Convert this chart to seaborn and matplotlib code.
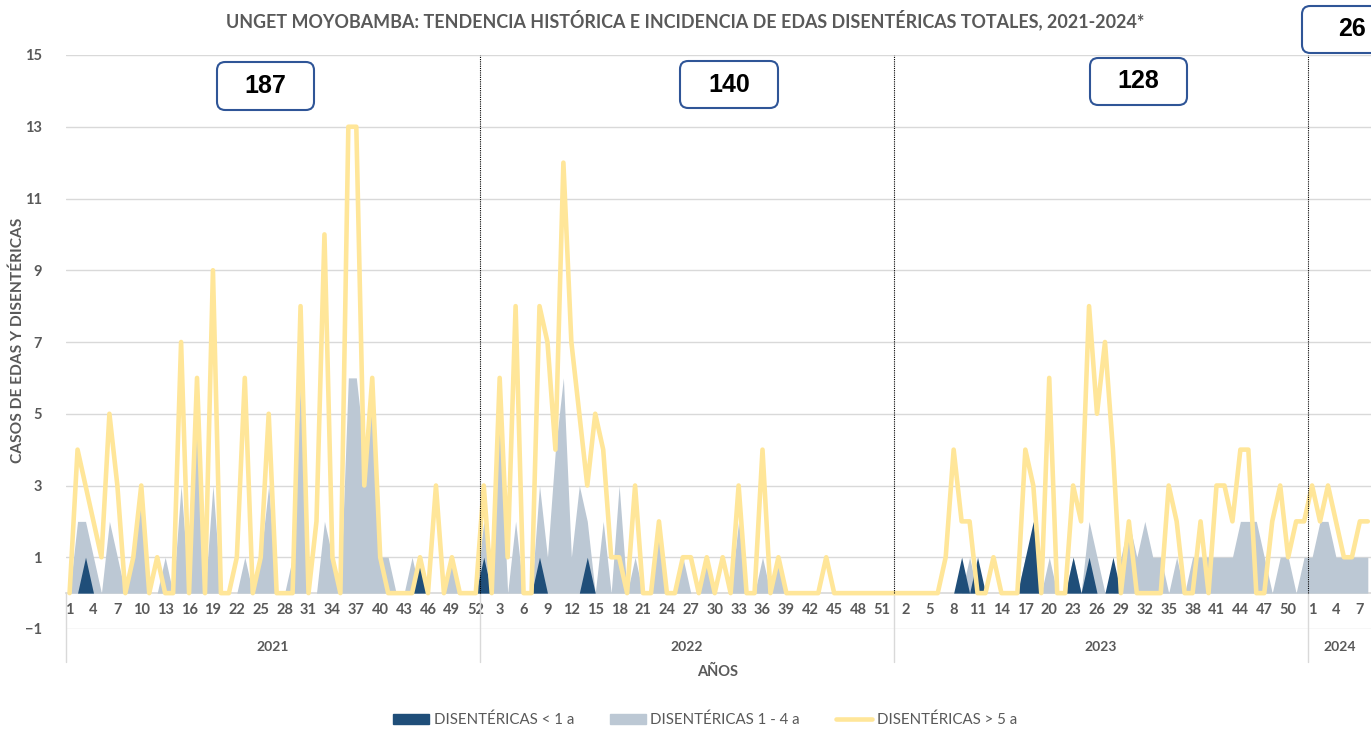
import matplotlib
matplotlib.use('Agg')
import matplotlib.pyplot as plt
import matplotlib.patches as mpatches
from matplotlib.lines import Line2D
import pandas as pd
import seaborn as sns

# ---- data ----
years = ['2021', '2022', '2023', '2024']
totals = ['187', '140', '128', '26']

# DISENTÉRICAS < 1 a
menor1_2021 = [0, 0, 1, 0, 0, 0, 0, 0, 0, 0, 0, 0, 0, 0, 0, 0, 0, 0, 0, 0, 0, 0, 0, 0, 0, 0,
               0, 0, 0, 0, 0, 0, 0, 0, 0, 0, 0, 0, 0, 0, 0, 0, 0, 0, 1, 0, 0, 0, 0, 0, 0, 0]
menor1_2022 = [1, 0, 0, 0, 0, 0, 0, 1, 0, 0, 0, 0, 0, 1, 0, 0, 0, 0, 0, 0, 0, 0, 0, 0, 0, 0,
               0, 0, 0, 0, 0, 0, 0, 0, 0, 0, 0, 0, 0, 0, 0, 0, 0, 0, 0, 0, 0, 0, 0, 0, 0, 0]
menor1_2023 = [0, 0, 0, 0, 0, 0, 0, 0, 1, 0, 1, 0, 0, 0, 0, 0, 1, 2, 0, 0, 0, 0, 1, 0, 1, 0,
               0, 1, 0, 0, 0, 0, 0, 0, 0, 0, 0, 0, 0, 0, 0, 0, 0, 0, 0, 0, 0, 0, 0, 0, 0, 0]
menor1_2024 = [0, 0, 0, 0, 0, 0, 0, 0]

# DISENTÉRICAS 1 - 4 a
de1a4_2021 = [0, 2, 2, 1, 0, 2, 1, 0, 1, 3, 0, 0, 1, 0, 3, 0, 5, 0, 3, 0, 0, 0, 1, 0, 1, 3,
              0, 0, 1, 6, 0, 0, 2, 1, 0, 6, 6, 4, 6, 1, 1, 0, 0, 1, 0, 0, 0, 0, 1, 0, 0, 0]
de1a4_2022 = [2, 1, 5, 0, 2, 0, 0, 3, 1, 4, 6, 1, 3, 2, 0, 2, 0, 3, 0, 1, 0, 0, 2, 0, 0, 1,
              0, 0, 1, 0, 0, 0, 2, 0, 0, 1, 0, 1, 0, 0, 0, 0, 0, 0, 0, 0, 0, 0, 0, 0, 0, 0]
de1a4_2023 = [0, 0, 0, 0, 0, 0, 0, 0, 0, 1, 0, 0, 0, 0, 0, 0, 1, 1, 0, 1, 0, 0, 1, 0, 2, 1,
              0, 0, 1, 2, 1, 2, 1, 1, 0, 1, 0, 1, 1, 1, 1, 1, 1, 2, 2, 2, 1, 0, 1, 1, 0, 1]
de1a4_2024 = [1, 2, 2, 1, 1, 1, 1, 1]

# DISENTÉRICAS > 5 a
mayor5_2021 = [0, 4, 3, 2, 1, 5, 3, 0, 1, 3, 0, 1, 0, 0, 7, 0, 6, 0, 9, 0, 0, 1, 6, 0, 1, 5,
               0, 0, 0, 8, 0, 2, 10, 1, 0, 13, 13, 3, 6, 1, 0, 0, 0, 0, 1, 0, 3, 0, 1, 0, 0, 0]
mayor5_2022 = [3, 0, 6, 1, 8, 0, 0, 8, 7, 4, 12, 7, 5, 3, 5, 4, 1, 1, 0, 3, 0, 0, 2, 0, 0, 1,
               1, 0, 1, 0, 1, 0, 3, 0, 0, 4, 0, 1, 0, 0, 0, 0, 0, 1, 0, 0, 0, 0, 0, 0, 0, 0]
mayor5_2023 = [0, 0, 0, 0, 0, 0, 1, 4, 2, 2, 0, 0, 1, 0, 0, 0, 4, 3, 0, 6, 0, 0, 3, 2, 8, 5,
               7, 4, 0, 2, 0, 0, 0, 0, 3, 2, 0, 0, 2, 0, 3, 3, 2, 4, 4, 0, 0, 2, 3, 1, 2, 2]
mayor5_2024 = [3, 2, 3, 2, 1, 1, 2, 2]

menor1 = [menor1_2021, menor1_2022, menor1_2023, menor1_2024]
de1a4 = [de1a4_2021, de1a4_2022, de1a4_2023, de1a4_2024]
mayor5 = [mayor5_2021, mayor5_2022, mayor5_2023, mayor5_2024]

rows = []
for y, a, b, c in zip(years, menor1, de1a4, mayor5):
    for w in range(len(a)):
        rows.append({'anio': y, 'semana': w + 1, 'menor1': a[w], 'de1a4': b[w], 'mayor5': c[w]})
df = pd.DataFrame(rows)
df['idx'] = range(len(df))

# ---- style ----
sns.set_theme(style='white')
plt.rcParams['font.family'] = ['Lato', 'DejaVu Sans']
GREY_TXT = '#595959'
GRID = '#d9d9d9'
C_DARK = '#1f4e79'
C_GREY = '#bcc8d4'
C_YEL = '#ffe699'

W, H = 1371, 731
fig = plt.figure(figsize=(W / 100, H / 100), dpi=100)
ax = fig.add_axes([65.6 / W, 1 - 629 / H, (W - 65.6) / W, 574 / H])

ax.fill_between(df['idx'], df['de1a4'], 0, color=C_GREY, lw=0, zorder=2)
ax.fill_between(df['idx'], df['menor1'], 0, color=C_DARK, lw=0, zorder=3)
sns.lineplot(data=df, x='idx', y='mayor5', color=C_YEL, linewidth=3.3, ax=ax,
             legend=False, zorder=4)
ax.lines[-1].set_solid_joinstyle('round')

ax.set_xlim(-0.5, 163.4)
ax.set_ylim(-1, 15)
ax.set_yticks(range(-1, 16, 2))
ax.yaxis.grid(True, color=GRID, lw=1)
ax.set_axisbelow(True)
for s in ['top', 'right', 'left']:
    ax.spines[s].set_visible(False)
ax.spines['bottom'].set_position(('data', 0))
ax.spines['bottom'].set_color(GRID)
ax.spines['bottom'].set_zorder(1)

ticks = df['idx'][::3]
ax.set_xticks(ticks)
ax.set_xticklabels(df['semana'][::3])
ax.tick_params(axis='x', length=0, pad=7, labelsize=10.5, labelcolor=GREY_TXT)
ax.tick_params(axis='y', length=0, pad=17, labelsize=10.5, labelcolor=GREY_TXT)
for lab in ax.get_xticklabels() + ax.get_yticklabels():
    lab.set_fontweight('bold')
ax.set_xlabel('')
ax.set_ylabel('')

# year boundaries
bounds = [-0.5]
n = 0
for a in menor1:
    n += len(a)
    bounds.append(n - 0.5)
trans = ax.get_xaxis_transform()
for b in bounds[1:-1]:
    ax.plot([b, b], [0, 15], color='black', ls=(0, (1, 1)), lw=0.8, zorder=5)
for b in bounds[:-1]:
    ax.plot([b, b], [0.0627, -0.0575], color=GRID, lw=1, transform=trans, clip_on=False)
for i, y in enumerate(years):
    mid = (bounds[i] + min(bounds[i + 1], 163.4)) / 2
    ax.text(mid, -0.0314, y, transform=trans, ha='center', va='center',
            fontsize=10, fontweight='bold', color=GREY_TXT)

fig.text(718 / W, 1 - 672 / H, 'AÑOS', ha='center', va='center', fontsize=10.5,
         fontweight='bold', color=GREY_TXT)
fig.text(18 / W, 1 - 340 / H, 'CASOS DE EDAS Y DISENTÉRICAS', rotation=90, ha='center',
         va='center', fontsize=11.2, fontweight='bold', color=GREY_TXT)
fig.text(685 / W, 1 - 20 / H,
         'UNGET MOYOBAMBA: TENDENCIA HISTÓRICA E INCIDENCIA DE EDAS DISENTÉRICAS TOTALES, 2021-2024*',
         ha='center', va='center', fontsize=12.9, fontweight='bold', color=GREY_TXT)


# total boxes (pixel layout)
def total_box(x0, y0, w, h, txt, tx=None):
    box = mpatches.FancyBboxPatch((x0 / W, 1 - (y0 + h) / H), w / W, h / H,
                                  boxstyle='round,pad=0,rounding_size=0.006',
                                  mutation_aspect=W / H, transform=fig.transFigure,
                                  facecolor='white', edgecolor='#2f5597', lw=1.5, zorder=10)
    fig.patches.append(box)
    cx = (x0 + w / 2) if tx is None else tx
    fig.text(cx / W, 1 - (y0 + h / 2) / H, txt, ha='center', va='center',
             fontsize=18, fontweight='bold', color='black', zorder=11,
             family=['Liberation Sans', 'DejaVu Sans'])


total_box(217, 62, 97, 48, totals[0])
total_box(680, 61, 98, 47, totals[1])
total_box(1090, 58, 97, 47, totals[2])
total_box(1302, 6, 90, 47, totals[3], tx=1352)

handles = [mpatches.Patch(color=C_DARK, label='DISENTÉRICAS < 1 a'),
           mpatches.Patch(color=C_GREY, label='DISENTÉRICAS 1 - 4 a'),
           Line2D([0], [0], color=C_YEL, lw=3.3, label='DISENTÉRICAS > 5 a')]
leg = fig.legend(handles=handles, loc='center', bbox_to_anchor=(705 / W, 1 - 720 / H),
                 ncol=3, frameon=False, fontsize=10.8, handlelength=2.4, handleheight=0.7,
                 handletextpad=0.3, columnspacing=2.4)
for t in leg.get_texts():
    t.set_color(GREY_TXT)

fig.savefig('out.png', dpi=100)
